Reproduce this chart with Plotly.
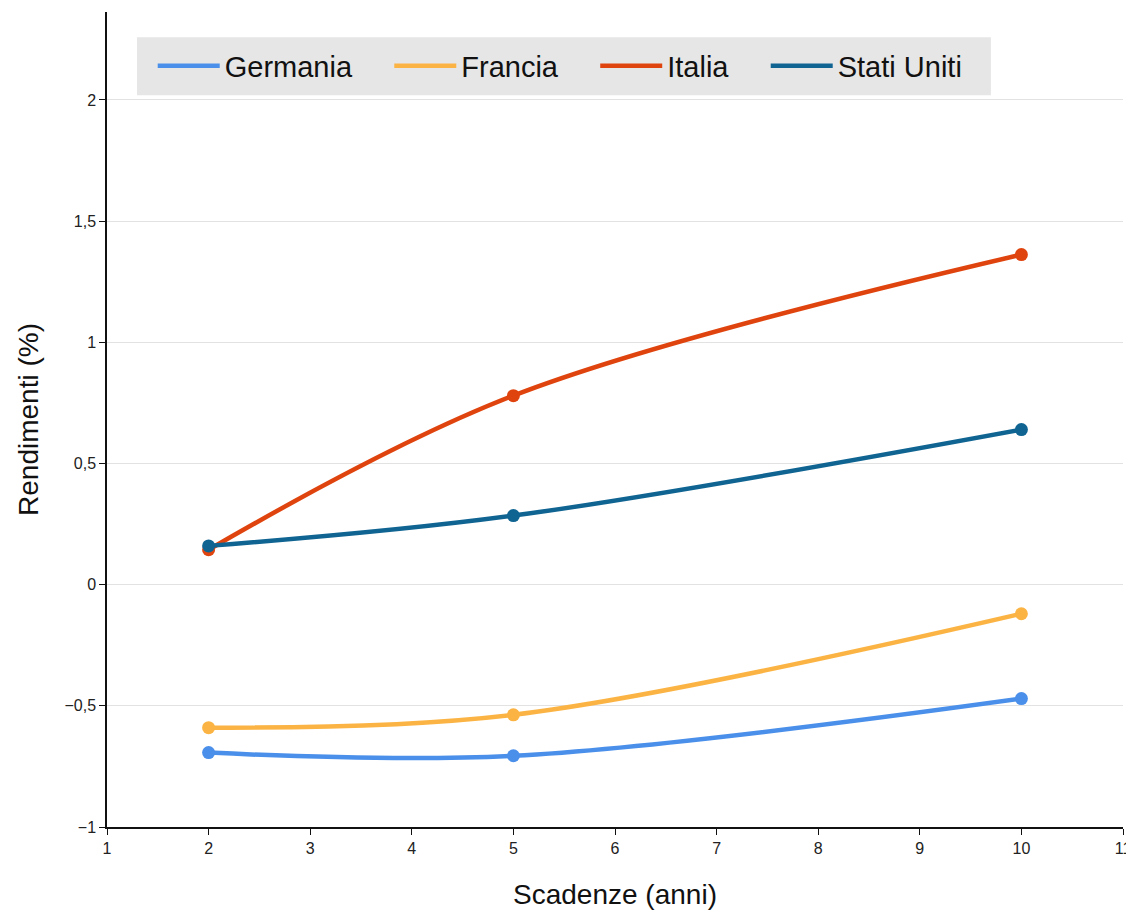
import plotly.graph_objects as go

maturities = [2, 5, 10]
germania = [-0.693, -0.706, -0.47]
francia = [-0.59, -0.537, -0.12]
italia = [0.144, 0.78, 1.362]
stati_uniti = [0.16, 0.285, 0.64]

series = [
    ("Germania", germania, "#4a8fea"),
    ("Francia", francia, "#fbb444"),
    ("Italia", italia, "#e0440e"),
    ("Stati Uniti", stati_uniti, "#0f6492"),
]

PAD = "\u00a0" * 4

fig = go.Figure()
for i, (name, vals, col) in enumerate(series):
    label = name + (PAD if i < len(series) - 1 else "")
    fig.add_trace(go.Scatter(x=maturities, y=vals, name=label, mode="lines",
                             line=dict(color=col, width=4.5, shape="spline", smoothing=1.0),
                             legendgroup=name))
    fig.add_trace(go.Scatter(x=maturities, y=vals, name=name, mode="markers",
                             marker=dict(color=col, size=13), showlegend=False,
                             legendgroup=name))

fig.add_shape(type="rect", xref="paper", yref="paper",
              x0=0.0295, x1=0.870, y0=0.898, y1=0.969,
              fillcolor="#e6e6e6", line=dict(width=0), layer="below")

font_family = "Liberation Sans, Arial, sans-serif"
fig.update_layout(
    width=1126, height=910,
    margin=dict(l=107, r=3, t=12, b=83),
    paper_bgcolor="white", plot_bgcolor="white",
    separators=",.",
    font=dict(family=font_family, color="#111"),
    showlegend=True,
    legend=dict(orientation="h", x=0.045, y=0.934, xanchor="left", yanchor="middle",
                bgcolor="rgba(0,0,0,0)", font=dict(size=29, color="#111"),
                itemwidth=62),
    xaxis=dict(range=[1, 11], tickmode="linear", tick0=1, dtick=1, automargin=False,
               showgrid=False, zeroline=False, showline=True, linecolor="#111", linewidth=1.5,
               ticks="outside", ticklen=6, tickcolor="#111", ticklabeloverflow="allow",
               tickfont=dict(size=16, color="#222"),
               title=dict(text="Scadenze (anni)", font=dict(size=28, color="#111"), standoff=28)),
    yaxis=dict(range=[-1, 2.363], tickmode="linear", tick0=-1, dtick=0.5, automargin=False,
               showgrid=True, gridcolor="#e2e2e2", gridwidth=1,
               zeroline=False, showline=True, linecolor="#111", linewidth=1.5,
               ticks="outside", ticklen=6, tickcolor="#111",
               tickfont=dict(size=16, color="#222"),
               title=dict(text="Rendimenti (%)", font=dict(size=28, color="#111"), standoff=18)),
)

fig.write_html("out.html")
